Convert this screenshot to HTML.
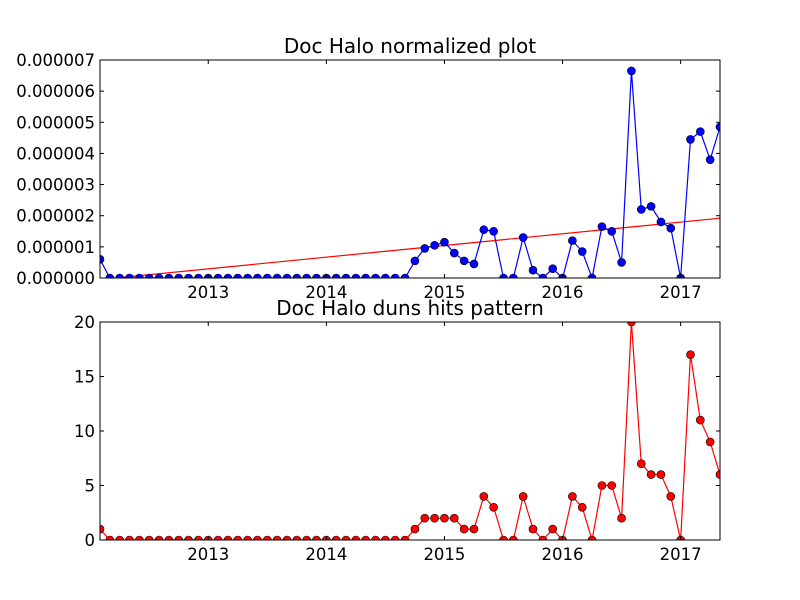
<!DOCTYPE html>
<html><head><meta charset="utf-8"><style>
body{margin:0;background:#fff}
svg{display:block;font-family:"DejaVu Sans","Liberation Sans",sans-serif}
</style></head><body>
<svg id="c" width="800" height="600"></svg>
<script>
const norm=[0.6,0,0,0,0,0,0,0,0,0,0,0,0,0,0,0,0,0,0,0,0,0,0,0,0,0,0,0,0,0,0,0,0.55,0.95,1.05,1.15,0.8,0.55,0.45,1.55,1.5,0,0,1.3,0.25,0,0.3,0,1.2,0.85,0,1.65,1.5,0.5,6.65,2.2,2.3,1.8,1.6,0,4.45,4.7,3.8,4.85];
const hits=[1,0,0,0,0,0,0,0,0,0,0,0,0,0,0,0,0,0,0,0,0,0,0,0,0,0,0,0,0,0,0,0,1,2,2,2,2,1,1,4,3,0,0,4,1,0,1,0,4,3,0,5,5,2,20,7,6,6,4,0,17,11,9,6];
const trend=[-0.05,1.92];
const yearLabels=["2013","2014","2015","2016","2017"];
const yearIdx=[11,23,35,47,59];
const topTicks=["0.000000","0.000001","0.000002","0.000003","0.000004","0.000005","0.000006","0.000007"];
const botTicks=[0,5,10,15,20];
const NS="http://www.w3.org/2000/svg",svg=document.getElementById('c');
function el(t,a,p){const e=document.createElementNS(NS,t);for(const k in a)e.setAttribute(k,a[k]);(p||svg).appendChild(e);return e;}
const X0=100,X1=720,n=norm.length;
const x=i=>X0+(X1-X0)*i/(n-1);
function panel(top,bot,ymax,vals,color,title,ticks,tickVals,name){
  const y=v=>bot-(bot-top)*v/ymax;
  const g=el('g',{});
  
  
  el('defs',{},g).innerHTML=`<clipPath id="cl${top}"><rect x="${X0}" y="${top}" width="${X1-X0}" height="${bot-top}"/></clipPath>`;
  const t=el('text',{x:410,y:top-7,'text-anchor':'middle','font-size':20},g);t.textContent=title;
  
  const cg=el('g',{'clip-path':`url(#cl${top})`},g);
  if(name==='normalized-panel'){
    const l=el('line',{x1:x(0),y1:y(trend[0]),x2:x(n-1),y2:y(trend[1]),stroke:'red','stroke-width':1.2},cg);
    
  }
  const p=el('polyline',{points:vals.map((v,i)=>x(i)+','+y(v)).join(' '),fill:'none',stroke:color,'stroke-width':1.2},cg);
  
  vals.forEach((v,i)=>{const c=el('circle',{cx:x(i),cy:y(v),r:4,fill:color,stroke:'#000','stroke-width':0.6},cg);
    });
  el('rect',{x:X0,y:top,width:X1-X0,height:bot-top,fill:'none',stroke:'#000','stroke-width':1},g);
  tickVals.forEach((v,k)=>{const yy=y(v);
    el('line',{x1:X0,y1:yy,x2:X0+4,y2:yy,stroke:'#000'},g);el('line',{x1:X1,y1:yy,x2:X1-4,y2:yy,stroke:'#000'},g);
    const tt=el('text',{x:X0-5,y:yy+6,'text-anchor':'end','font-size':16.5},g);tt.textContent=ticks[k];
    });
  yearIdx.forEach((ix,k)=>{const xx=x(ix);
    el('line',{x1:xx,y1:bot,x2:xx,y2:bot-4,stroke:'#000'},g);el('line',{x1:xx,y1:top,x2:xx,y2:top+4,stroke:'#000'},g);
    const tt=el('text',{x:xx,y:bot+20,'text-anchor':'middle','font-size':16.5},g);tt.textContent=yearLabels[k];
    });
}
panel(60,278,7,norm,'blue','Doc Halo normalized plot',topTicks,topTicks.map((_,i)=>i),'normalized-panel');
panel(322,540,20,hits,'red','Doc Halo duns hits pattern',botTicks.map(String),botTicks,'hits-panel');
</script>
</body></html>
